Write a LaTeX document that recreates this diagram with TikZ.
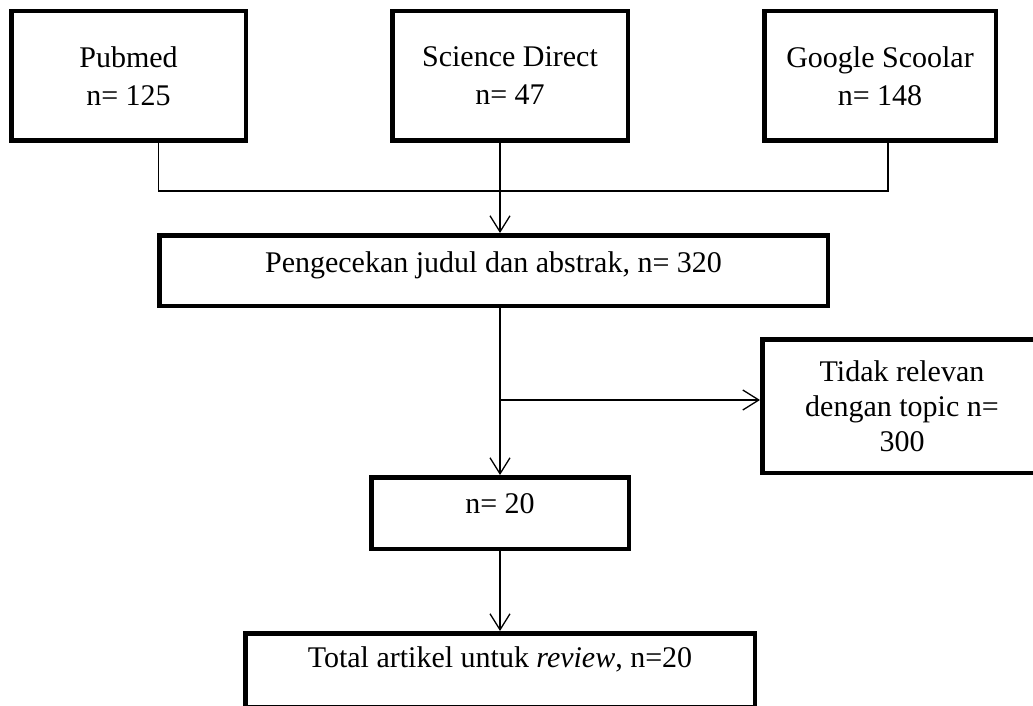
\documentclass[tikz,border=0pt]{standalone}
\usepackage{fontspec}
\setmainfont{Liberation Serif}
\usetikzlibrary{arrows.meta,positioning}

\begin{document}
\begin{tikzpicture}[x=1pt,y=-1pt,
  box/.style={draw,line width=4.5pt,align=center,inner sep=0pt,
    font=\fontsize{30}{38}\selectfont},
  src/.style={box,minimum height=129.5pt},
  ln/.style={line width=1.3pt},
  arr/.style={ln,-{Straight Barb[length=16pt,width=20pt]}}]
  \useasboundingbox (0,0) rectangle (1033,706);
  \node[src,minimum width=234.5pt,anchor=north west] (pub) at (9,9) {Pubmed\\n= 125};
  \node[src,minimum width=235.5pt,right=142pt of pub] (sd) {Science Direct\\n= 47};
  \node[src,minimum width=231.5pt,right=132pt of sd] (gs) {Google Scoolar\\n= 148};
  \node[box,minimum width=668.5pt,text height=36.75pt,text depth=33.75pt,
    below right=90pt and 148pt of pub.south west] (chk) {Pengecekan judul dan abstrak, n= 320};
  \node[box,minimum width=279.5pt,minimum height=133.5pt,font=\fontsize{30}{35}\selectfont,
    anchor=north west] (tdk) at (760,337) {Tidak relevan\\dengan topic n=\\300};
  \node[box,minimum width=257.5pt,text height=35.75pt,text depth=35.75pt,
    anchor=north] (n20) at (500,475) {n= 20};
  \node[box,minimum width=509.5pt,text height=33.75pt,text depth=40pt,
    below=80pt of n20] (tot) {Total artikel untuk \textit{review}, n=20};
  \coordinate (j) at (500,191);
  \coordinate (b) at (500,400);
  \draw[ln] ([xshift=30pt]pub.south) |- (j) -| ([xshift=8pt]gs.south);
  \draw[arr] (j |- sd.south) -- (j |- chk.north);
  \draw[arr] (chk.south -| n20) -- (n20);
  \draw[arr] (b) -- (b -| tdk.west);
  \draw[arr] (n20) -- (tot);
\end{tikzpicture}
\end{document}
